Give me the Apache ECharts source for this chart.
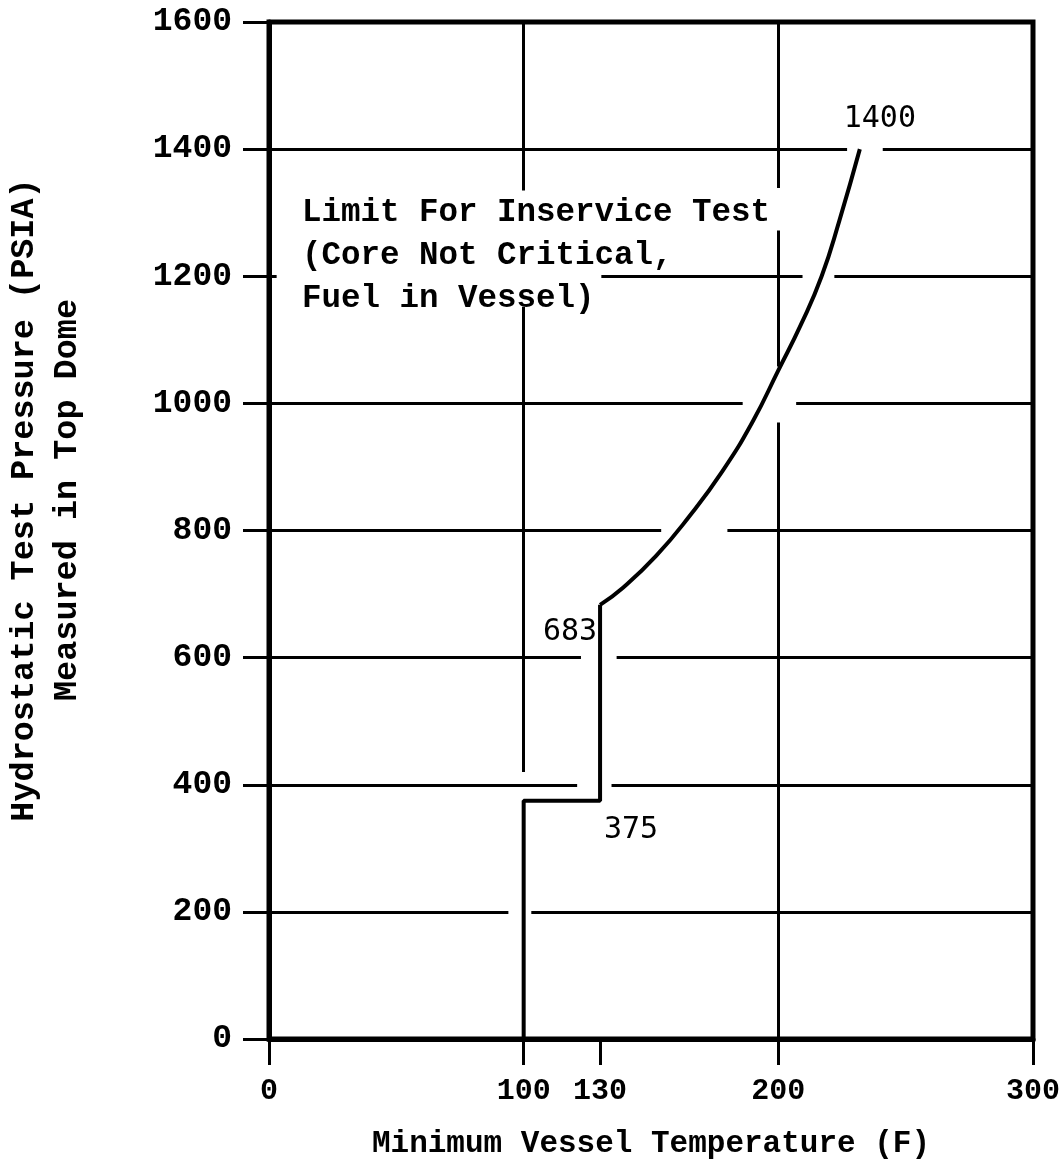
<!DOCTYPE html>
<html>
<head>
<meta charset="utf-8">
<title>Hydrostatic Test Pressure vs Minimum Vessel Temperature</title>
<script src="https://cdn.jsdelivr.net/npm/echarts@6/dist/echarts.min.js"></script>
<style>
  html, body { margin: 0; padding: 0; background: #fff; }
  #chart { width: 1064px; height: 1165px; }
</style>
</head>
<body>
<div id="chart"></div>
<script>
// Axis ticks
const xTickValues = [0, 100, 130, 200, 300];
const yTickValues = [0, 200, 400, 600, 800, 1000, 1200, 1400, 1600];

// Limit line: vertical at 100 F, step at 375 psia, vertical at 130 F up to 683 psia
const stepTemp = [100, 100, 130, 130];
const stepPress = [0, 375, 375, 683];

// Limit curve from 683 psia at 130 F up to 1400 psia
const curveTemp = [130, 139, 152, 165, 178, 190, 200, 209, 217, 224, 232];
const curvePress = [683, 710, 760, 822, 893, 972, 1052, 1125, 1200, 1288, 1400];

// Points whose pressure is printed beside the line
const labelledTemp = [130, 130, 232];
const labelledPress = [375, 683, 1400];

const noteLines = ['Limit For Inservice Test', '(Core Not Critical,', 'Fuel in Vessel)'];

const MONO = '"Liberation Mono", "DejaVu Sans Mono", monospace';
const LABEL_FONT = '"DejaVu Sans Mono", "Liberation Mono", monospace';

// Grid rules are drawn as broken segments, leaving room for the curve and the note
const hRules = [
  { y: 200, spans: [[0, 94], [103, 300]] },
  { y: 400, spans: [[0, 121], [134.5, 300]] },
  { y: 600, spans: [[0, 122.5], [136.5, 300]] },
  { y: 800, spans: [[0, 154], [180, 300]] },
  { y: 1000, spans: [[0, 186], [207, 300]] },
  { y: 1200, spans: [[0, 3], [130.5, 209.5], [222, 300]] },
  { y: 1400, spans: [[0, 227], [241, 300]] }
];
const vRules = [
  { x: 100, spans: [[420, 1152], [1335, 1600]] },
  { x: 200, spans: [[0, 970], [1058, 1272], [1339, 1600]] }
];

const ruleSegments = [];
hRules.forEach(r => r.spans.forEach(s => ruleSegments.push({ coords: [[s[0], r.y], [s[1], r.y]] })));
vRules.forEach(r => r.spans.forEach(s => ruleSegments.push({ coords: [[r.x, s[0]], [r.x, s[1]]] })));

const stepData = stepTemp.map((t, i) => [t, stepPress[i]]);
const curveData = curveTemp.map((t, i) => [t, curvePress[i]]);

const labelOffsets = [[31, 30], [-30, 27], [20, -30]];
const labelledData = labelledTemp.map((t, i) => ({
  value: [t, labelledPress[i]],
  label: { offset: labelOffsets[i] }
}));

const chart = echarts.init(document.getElementById('chart'));
chart.setOption({
  backgroundColor: '#ffffff',
  animation: false,
  grid: {
    left: 269, right: 31, top: 22, bottom: 123,
    show: true, borderColor: '#000', borderWidth: 5, backgroundColor: 'transparent'
  },
  xAxis: {
    type: 'value',
    min: 0, max: 300,
    name: 'Minimum Vessel Temperature (F)',
    nameLocation: 'middle',
    nameGap: 90,
    nameTextStyle: { fontFamily: MONO, fontWeight: 'bold', fontSize: 31, color: '#000' },
    axisLine: { show: true, lineStyle: { color: '#000', width: 5 } },
    axisTick: { show: true, customValues: xTickValues, length: 26, lineStyle: { color: '#000', width: 3 } },
    axisLabel: {
      customValues: xTickValues, margin: 37,
      formatter: v => String(v),
      fontFamily: MONO, fontWeight: 'bold', fontSize: 30, color: '#000'
    },
    splitLine: { show: false }
  },
  yAxis: {
    type: 'value',
    min: 0, max: 1600, interval: 200,
    axisLine: { show: true, lineStyle: { color: '#000', width: 5 } },
    axisTick: { show: true, customValues: yTickValues, length: 26, lineStyle: { color: '#000', width: 3 } },
    axisLabel: {
      customValues: yTickValues, margin: 37,
      formatter: v => String(v),
      fontFamily: MONO, fontWeight: 'bold', fontSize: 33, color: '#000'
    },
    splitLine: { show: false }
  },
  graphic: [
    {
      type: 'text',
      x: 46, y: 500,
      rotation: Math.PI / 2,
      style: {
        text: 'Hydrostatic Test Pressure (PSIA)\nMeasured in Top Dome',
        font: 'bold 33.5px ' + MONO,
        fill: '#000',
        align: 'center',
        verticalAlign: 'middle',
        lineHeight: 43
      }
    },
    {
      type: 'text',
      x: 302, y: 191,
      style: {
        text: noteLines.join('\n'),
        font: 'bold 32.5px ' + MONO,
        fill: '#000',
        align: 'left',
        verticalAlign: 'top',
        lineHeight: 43
      }
    }
  ],
  series: [
    {
      type: 'lines',
      coordinateSystem: 'cartesian2d',
      polyline: false,
      silent: true,
      lineStyle: { color: '#000', width: 3, opacity: 1 },
      data: ruleSegments,
      z: 1
    },
    {
      type: 'line',
      data: stepData,
      showSymbol: false,
      lineStyle: { color: '#000', width: 4 },
      z: 3
    },
    {
      type: 'line',
      data: curveData,
      smooth: 0.5,
      showSymbol: false,
      lineStyle: { color: '#000', width: 4 },
      z: 3
    },
    {
      type: 'scatter',
      data: labelledData,
      symbolSize: 1,
      itemStyle: { color: 'rgba(0,0,0,0)', opacity: 1 },
      label: {
        show: true,
        position: 'inside',
        formatter: p => String(p.value[1]),
        fontFamily: LABEL_FONT,
        fontSize: 30,
        color: '#000',
        opacity: 1,
        textBorderWidth: 0,
        align: 'center',
        verticalAlign: 'middle'
      },
      z: 4
    }
  ]
});
</script>
</body>
</html>
